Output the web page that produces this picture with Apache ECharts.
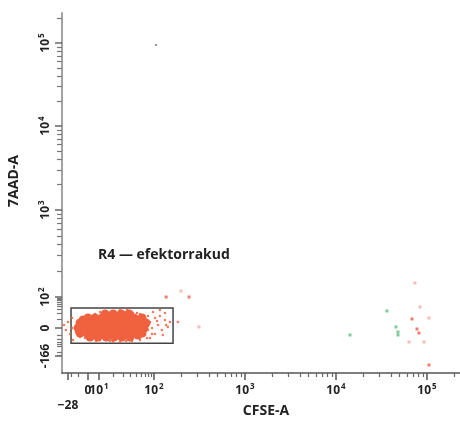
<!DOCTYPE html>
<html>
<head>
<meta charset="utf-8">
<script src="https://cdn.jsdelivr.net/npm/echarts@6/dist/echarts.min.js"></script>
<style>
  html, body { margin: 0; padding: 0; background: #fff; }
  #chart { width: 460px; height: 421px; }
</style>
</head>
<body>
<div id="chart"></div>
<script>
// ---- Events (CFSE-A, 7AAD-A) ----
// dense part of the effector population
const coreEvents = [
  [13.6, 18], [19.5, 18], [27.2, 18], [37.9, 18],
  [0, 11.3], [5.9, 11.3], [11.7, 11.3], [17.1, 11.3], [23.9, 11.3], [33.5, 11.3], [45.8, 11.3], [62.9, 11.3],
  [-7.6, 5], [-1.8, 5], [3.3, 5], [8.9, 5], [12.9, 5], [17.1, 5], [22, 5], [28.4, 5], [36.5, 5], [45.8, 5], [58, 5], [73.3, 5],
  [-9.9, 0], [-3.6, 0], [1.6, 0], [6.9, 0], [11.7, 0], [15.6, 0], [20.3, 0], [26.2, 0], [33.5, 0], [42.2, 0], [53.6, 0], [67.8, 0],
  [-7.6, -6.7], [-0.9, -6.7], [5, -6.7], [11.1, -6.7], [15.6, -6.7], [21.1, -6.7], [28.4, -6.7], [37.9, -6.7], [49.7, -6.7], [62.9, -6.7],
  [1.6, -13.8], [8.9, -13.8], [14.4, -13.8], [20.3, -13.8], [28.4, -13.8], [39.2, -13.8],
  [-4.5, 8.5], [6.9, 8.5], [15.6, 8.5], [26.2, 8.5], [39.2, 8.5], [53.6, 8.5],
  [-2.7, -2.5], [10.5, -2.5], [19.5, -2.5], [29.5, -2.5], [44.1, -2.5], [58, -2.5],
  [3.3, -10], [13.6, -10], [23.9, -10], [36.5, -10], [53.6, -10]
];
// sparse events around the edge of the population
const fringeEvents = [
  [-40.5, 2.9], [-34, -2.5], [-28, 6.1], [-22.9, -8.2], [-19, 11.3], [-17.3, -21.2], [-19, 0],
  [-12.6, -5.2], [-11.2, 6.1], [-4.5, 9.9], [-7.6, -13.8], [-2.7, -16], [3.3, -18.6], [10.5, -21.2],
  [17.1, -24.6], [26.2, -28], [42.2, -24.6], [58, -21.2], [76.2, -16], [102.5, -8.2], [125, -9.9],
  [122, -2.5], [142, 1], [110.8, 2.9], [92.5, 0], [85.6, 6.1], [108, 7.3], [132, 8.5], [150, 6.1],
  [116, 14.4], [102.5, 11.3], [79.2, 14.4], [70.5, 8.5], [58, 18], [51.6, 20.1], [44.1, 20.1],
  [32, 22.4], [26.2, 27.6], [21.1, 25], [10.5, 22.4], [5.9, 18], [96.1, 22.4], [132, 20.1], [183, 6.1],
  [1.6, 14.4], [-2.7, 7.3], [79.2, -2.5], [92.5, -8.2], [70.5, -9.9], [85.6, -16], [15.6, 20.1],
  [35, 27.6], [116, 27.6], [136, 2.9], [19.5, -28], [33.5, -24.6], [6.9, -24.6]
];
const redEvents = [[136, 100], [243, 100], [68400, 9.9], [77600, -1.25], [81600, -6.7], [105000, -512]];
const pinkEvents = [[198, 117], [312, 1], [73700, 145], [83700, 37.8], [105000, 11.3], [63400, -28], [92800, -28]];
const greenEvents = [[14250, -9.9], [36300, 25], [45600, 1], [48000, -5.2], [48000, -9.9]];
const greyEvents = [[105, 94650]];

// R4 gate corners (CFSE-A, 7AAD-A)
const gateR4 = [[-21, -32.5], [162, 33.9]];
const gateName = 'R4 — efektorrakud';

// ---- Axis ticks ----
const xMajorTicks = [-28, 0, 10, 100, 1000, 10000, 100000];
const xMajorLabels = ['−28', '0', '10^1', '10^2', '10^3', '10^4', '10^5'];
const xMinorTicks = [-20, -10, 20, 30, 40, 50, 60, 70, 80, 90,
  200, 300, 400, 500, 600, 700, 800, 900,
  2000, 3000, 4000, 5000, 6000, 7000, 8000, 9000,
  20000, 30000, 40000, 50000, 60000, 70000, 80000, 90000, 200000];
const yMajorTicks = [-166, 0, 100, 1000, 10000, 100000];
const yMajorLabels = ['-166', '0', '10^2', '10^3', '10^4', '10^5'];
const yMinorTicks = [-150, -100, -50, -40, -30, -20, -10, 10, 20, 30, 40, 50, 60, 70, 80, 90,
  200, 300, 400, 500, 600, 700, 800, 900,
  2000, 3000, 4000, 5000, 6000, 7000, 8000, 9000,
  20000, 30000, 40000, 50000, 60000, 70000, 80000, 90000, 200000];

// ---- Biexponential display scale: value -> display channel (0..1000) ----
// piecewise linear in asinh(v/10) between reference values
function biexScale(refValues, refChannels) {
  const g = v => Math.asinh(v / 10);
  const gs = refValues.map(g);
  return function (v) {
    const t = g(v);
    let i = gs.length - 2;
    if (t <= gs[0]) i = 0;
    else {
      for (let k = 0; k < gs.length - 1; k++) {
        if (t <= gs[k + 1]) { i = k; break; }
      }
    }
    return refChannels[i] + (t - gs[i]) * (refChannels[i + 1] - refChannels[i]) / (gs[i + 1] - gs[i]);
  };
}
const tx = biexScale([-28, 0, 10, 100, 1e3, 1e4, 1e5], [15.1, 65.3, 93, 231.2, 459.8, 688.4, 917.1]);
const ty = biexScale([-166, 0, 100, 1e3, 1e4, 1e5], [47.2, 125, 211.1, 452.8, 686.1, 916.7]);
const toDisplay = pts => pts.map(p => [tx(p[0]), ty(p[1])]);

const FONT = '"Open Sans", "Noto Sans", sans-serif';
const INK = '#222';

// tick label text with superscript exponents
function makeFormatter(ticks, labels, scale, lowLabel) {
  const chans = ticks.map(scale);
  return function (value) {
    let best = 0, bestDist = Infinity;
    chans.forEach((c, i) => {
      const d = Math.abs(c - value);
      if (d < bestDist) { bestDist = d; best = i; }
    });
    const s = labels[best];
    const m = s.match(/^10\^(\d)$/);
    if (m) return '{b|10}{s|' + m[1] + '}';
    if (lowLabel && s === lowLabel) return '{d|' + s + '}';
    return '{b|' + s + '}';
  };
}

const richStyles = {
  b: { fontSize: 12, fontWeight: 'bold', color: INK, fontFamily: FONT, lineHeight: 16, verticalAlign: 'middle' },
  s: { fontSize: 8, fontWeight: 'bold', color: INK, fontFamily: FONT, lineHeight: 10, verticalAlign: 'top', padding: [0, 0, 0, 1] },
  d: { fontSize: 12, fontWeight: 'bold', color: INK, fontFamily: FONT, lineHeight: 16, padding: [29, 0, 0, 0] }
};

const chart = echarts.init(document.getElementById('chart'), null, { renderer: 'canvas' });

const valueAxisBase = { type: 'value', min: 0, max: 1000, splitLine: { show: false } };

chart.setOption({
  animation: false,
  backgroundColor: '#fff',
  grid: { left: 62, top: 13, width: 398, height: 360, containLabel: false, outerBoundsMode: 'none' },
  xAxis: [
    Object.assign({}, valueAxisBase, {
      position: 'bottom',
      axisLine: { show: true, lineStyle: { color: '#555', width: 1.5 } },
      axisTick: { show: true, customValues: xMajorTicks.map(tx), length: 7, lineStyle: { color: '#555', width: 1.5 } },
      axisLabel: {
        show: true, customValues: xMajorTicks.map(tx), margin: 10, hideOverlap: false,
        formatter: makeFormatter(xMajorTicks, xMajorLabels, tx, '−28'), rich: richStyles
      }
    }),
    Object.assign({}, valueAxisBase, {
      position: 'bottom',
      axisLine: { show: false },
      axisTick: { show: true, customValues: xMinorTicks.map(tx), length: 4, lineStyle: { color: '#666', width: 1.2 } },
      axisLabel: { show: false }
    })
  ],
  yAxis: [
    Object.assign({}, valueAxisBase, {
      position: 'left',
      axisLine: { show: true, lineStyle: { color: '#a3a3a3', width: 2 } },
      axisTick: { show: true, customValues: yMajorTicks.map(ty), length: 7, lineStyle: { color: '#666', width: 1.5 } },
      axisLabel: {
        show: true, customValues: yMajorTicks.map(ty), margin: 8, rotate: 90, hideOverlap: false,
        formatter: makeFormatter(yMajorTicks, yMajorLabels, ty), rich: richStyles
      }
    }),
    Object.assign({}, valueAxisBase, {
      position: 'left',
      axisLine: { show: false },
      axisTick: { show: true, customValues: yMinorTicks.map(ty), length: 5, lineStyle: { color: '#777', width: 1.2 } },
      axisLabel: { show: false }
    })
  ],
  graphic: [
    { type: 'text', x: 14, y: 181, rotation: Math.PI / 2,
      style: { text: '7AAD-A', font: 'bold 14px ' + FONT, fill: INK, align: 'center', verticalAlign: 'middle' } },
    { type: 'text', x: 266, y: 411,
      style: { text: 'CFSE-A', font: 'bold 14px ' + FONT, fill: INK, align: 'center', verticalAlign: 'middle' } },
    { type: 'text', x: 98, y: 255,
      style: { text: gateName, font: 'bold 14px ' + FONT, fill: INK, align: 'left', verticalAlign: 'middle' } }
  ],
  series: [
    {
      type: 'scatter', name: 'core', silent: true, symbolSize: 9,
      itemStyle: { color: '#f0613f', opacity: 1 },
      data: toDisplay(coreEvents),
      markArea: {
        silent: true,
        itemStyle: { color: 'rgba(0,0,0,0)', borderColor: '#444', borderWidth: 1.5 },
        label: { show: false },
        data: [[
          { xAxis: tx(gateR4[0][0]), yAxis: ty(gateR4[0][1]) },
          { xAxis: tx(gateR4[1][0]), yAxis: ty(gateR4[1][1]) }
        ]]
      }
    },
    {
      type: 'scatter', name: 'fringe', silent: true, symbolSize: 2.5,
      itemStyle: { color: '#f0613f', opacity: 0.85 },
      data: toDisplay(fringeEvents)
    },
    {
      type: 'scatter', name: 'red', silent: true, symbolSize: 3, symbol: 'rect',
      itemStyle: { color: '#ec5a4c', opacity: 0.8 },
      data: toDisplay(redEvents)
    },
    {
      type: 'scatter', name: 'pink', silent: true, symbolSize: 3, symbol: 'rect',
      itemStyle: { color: '#f5aca5', opacity: 0.8 },
      data: toDisplay(pinkEvents)
    },
    {
      type: 'scatter', name: 'green', silent: true, symbolSize: 3, symbol: 'rect',
      itemStyle: { color: '#5fbf80', opacity: 0.8 },
      data: toDisplay(greenEvents)
    },
    {
      type: 'scatter', name: 'grey', silent: true, symbolSize: 2, symbol: 'rect',
      itemStyle: { color: '#777' },
      data: toDisplay(greyEvents)
    }
  ]
});
</script>
</body>
</html>
